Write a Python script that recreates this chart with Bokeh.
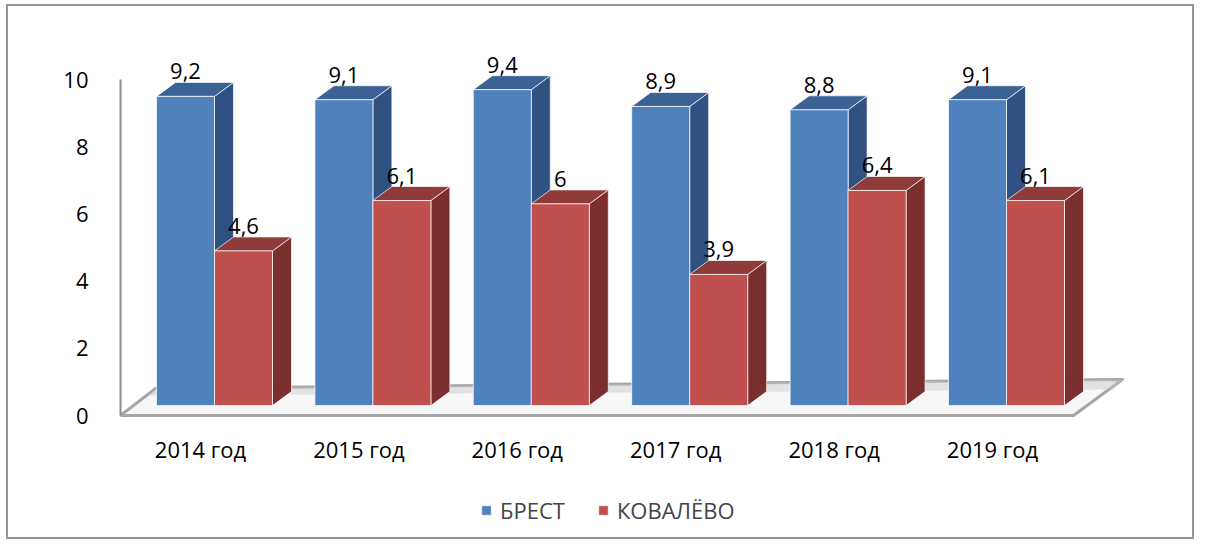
from bokeh.plotting import figure
from bokeh.models import Range1d, LinearAxis, FixedTicker, Legend, LegendItem, ColumnDataSource
from bokeh.core.properties import value
from bokeh.embed import file_html
from bokeh.resources import INLINE

# ---------------- data ----------------
categories = ["2014 год", "2015 год", "2016 год", "2017 год", "2018 год", "2019 год"]
brest = [9.2, 9.1, 9.4, 8.9, 8.8, 9.1]
kovalevo = [4.6, 6.1, 6.0, 3.9, 6.4, 6.1]
series_names = ["БРЕСТ", "КОВАЛЁВО"]
y_ticks = [0, 2, 4, 6, 8, 10]

# ---------------- geometry / style ----------------
FONT = "Open Sans"
FS = "22px"
PX_X = 158.4          # pixels per category
PX_Y = 33.6           # pixels per value unit
BAR_W = 58 / PX_X
DX = 19 / PX_X        # 3D depth offset
DY = 14 / PX_Y

W, H = 1188, 535
ML, MR, MT, MB = 112, 66, 30, 2
FW, FH = W - ML - MR, H - MT - MB
x_start = -94 / PX_X
x_end = x_start + FW / PX_X
y_end = 369 / PX_Y
y_start = y_end - FH / PX_Y

colors = {
    "front": ["#4F81BD", "#C0504D"],
    "top": ["#3B6294", "#8F3B39"],
    "side": ["#2F5282", "#7A2E2D"],
}

p = figure(width=W, height=H, x_range=Range1d(x_start, x_end), y_range=Range1d(y_start, y_end),
           output_backend="svg", toolbar_location=None,
           x_axis_location=None, y_axis_location=None,
           min_border_left=ML, min_border_right=MR, min_border_top=MT, min_border_bottom=MB)
p.outline_line_color = None
p.grid.visible = False
p.background_fill_color = "white"
p.border_fill_color = "white"
p.styles = {"border": "2px solid #959595", "margin": "4px 0px 0px 6px"}

# ---------------- floor ----------------
n = len(categories)
f_y0 = -10 / PX_Y
f_left = x_start
f_right = (n - 1) + 67 / PX_X
floor_x = [f_left, f_right, f_right + 49 / PX_X, f_left + 35 / PX_X]
floor_y = [f_y0, f_y0, f_y0 + 36 / PX_Y, f_y0 + 27 / PX_Y]
p.patch(floor_x, floor_y, fill_color="#F7F7F7", line_color="#A6A6A6", line_width=3, line_join="round")
sh_x = [f_left + 35 / PX_X, f_right + 49 / PX_X, f_right + 40 / PX_X, f_left + 28 / PX_X]
sh_y = [f_y0 + 27 / PX_Y, f_y0 + 36 / PX_Y, f_y0 + 26 / PX_Y, f_y0 + 20 / PX_Y]
p.patch(sh_x, sh_y, fill_color="#C8C8C8", fill_alpha=0.45, line_color=None)

# ---------------- bars ----------------
front_renderers = []
for s, vals in enumerate([brest, kovalevo]):
    x0 = [i - BAR_W + s * BAR_W for i in range(n)]
    x1 = [a + BAR_W for a in x0]
    top_xs = [[a, b, b + DX, a + DX] for a, b in zip(x0, x1)]
    top_ys = [[v, v, v + DY, v + DY] for v in vals]
    side_xs = [[b, b + DX, b + DX, b] for b in x1]
    side_ys = [[0, DY, v + DY, v] for v in vals]
    p.patches(side_xs, side_ys, fill_color=colors["side"][s], line_color="white", line_alpha=0.7, line_width=1)
    p.patches(top_xs, top_ys, fill_color=colors["top"][s], line_color="white", line_alpha=0.7, line_width=1)
    src = ColumnDataSource(dict(left=x0, right=x1, top=vals, bottom=[0] * n))
    r = p.quad(left="left", right="right", top="top", bottom="bottom", source=src,
               fill_color=colors["front"][s], line_color="white", line_alpha=0.7, line_width=1)
    front_renderers.append(r)
    lab = ColumnDataSource(dict(x=[(a + b) / 2 for a, b in zip(x0, x1)],
                                y=[v + DY for v in vals],
                                t=[f"{v:g}".replace(".", ",") for v in vals]))
    p.text(x="x", y="y", text="t", source=lab, text_align="center", text_baseline="bottom",
           text_font=value(FONT), text_font_size=FS, text_color="black", y_offset=-3)

# ---------------- category labels ----------------
cat_src = ColumnDataSource(dict(x=[i - 14 / PX_X for i in range(n)],
                                y=[-43 / PX_Y] * n, t=categories))
p.text(x="x", y="y", text="t", source=cat_src, text_align="center", text_baseline="middle",
       text_font=value(FONT), text_font_size=FS, text_color="black")

# ---------------- y axis ----------------
p.extra_y_ranges = {"ax": Range1d(y_start + 10 / PX_Y, y_end + 10 / PX_Y)}
yax = LinearAxis(y_range_name="ax", ticker=FixedTicker(ticks=y_ticks), bounds=(0, 10),
                 axis_line_color="#8C8C8C", axis_line_width=2,
                 major_tick_line_color=None, minor_tick_line_color=None,
                 major_label_standoff=26, major_label_text_font=FONT,
                 major_label_text_font_size=FS, major_label_text_color="black")
p.add_layout(yax, "left")

# ---------------- legend ----------------
legend = Legend(items=[LegendItem(label=series_names[i], renderers=[front_renderers[i]]) for i in range(2)],
                orientation="horizontal", location=(360, 14),
                border_line_color=None, background_fill_alpha=0,
                label_text_font=FONT, label_text_font_size=FS,
                glyph_width=12, glyph_height=12, label_standoff=8, spacing=32,
                margin=0, padding=0)
p.add_layout(legend)

open("out.html", "w").write(file_html(p, INLINE))
